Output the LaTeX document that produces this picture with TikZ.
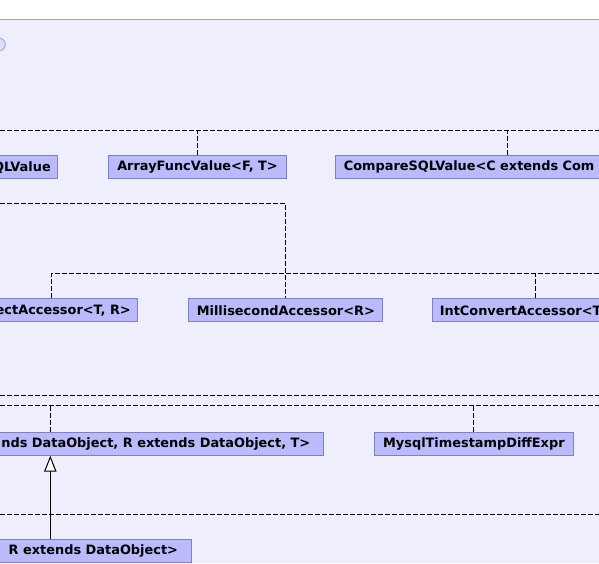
\documentclass[tikz,border=0pt]{standalone}
\usepackage{fontspec}
\newfontfamily\umlfont{DejaVu Sans}
\usetikzlibrary{arrows.meta}
\definecolor{bgl}{RGB}{238,238,252}
\definecolor{boxfill}{RGB}{186,186,252}
\definecolor{boxline}{RGB}{128,128,190}
\definecolor{frameline}{RGB}{160,160,184}
\definecolor{circfill}{RGB}{222,222,246}
\definecolor{circline}{RGB}{168,168,210}
\begin{document}
\begin{tikzpicture}[x=1pt,y=-1pt,
  cls/.style={draw=boxline, fill=boxfill, line width=1pt, minimum height=23pt,
    inner xsep=7pt, inner ysep=0pt, text=black,
    font=\umlfont\bfseries\fontsize{12.9}{15}\selectfont},
  dep/.style={draw=black, line width=1pt, dash pattern=on 5pt off 2pt},
  gen/.style={draw=black, line width=1pt, -{Triangle[length=16pt,width=12.4pt,fill=white]}}]
\useasboundingbox (0,0) rectangle (599,563);
\clip (0,0) rectangle (599,563);
\fill[white] (0,0) rectangle (599,563);
\fill[bgl] (0,19.5) rectangle (599,563);
\draw[frameline, line width=1pt] (0,19.5) -- (599,19.5);
\draw[circline, fill=circfill, line width=1pt] (-1,44.5) circle (6.3pt);

% classes
\node[cls, anchor=north east] (ql) at (58.3,155.3) {QLValue};
\node[cls, minimum width=177.4pt, anchor=north west] (af) at (108.3,155.3) {ArrayFuncValue<F, T>};
\node[cls, anchor=north west, inner xsep=8pt, text width=300pt, align=left] (cmp) at (335.3,155.3) {CompareSQLValue<C extends Com};
\node[cls, anchor=north east] (ect) at (138.3,298.3) {ectAccessor<T, R>};
\node[cls, minimum width=194pt, anchor=north west] (ms) at (188.3,298.3) {MillisecondAccessor<R>};
\node[cls, anchor=north west, text width=200pt, align=left] (ic) at (432.3,298.3) {IntConvertAccessor<T};
\node[cls, anchor=north east, inner xsep=13.5pt] (nds) at (324.3,431.7) {nds DataObject, R extends DataObject, T>};
\node[cls, minimum width=198.7pt, anchor=north west] (my) at (374,431.7) {MysqlTimestampDiffExpr};
\node[cls, anchor=north east, inner xsep=13.2pt] (rx) at (191.7,539.3) {R extends DataObject>};

% bus coordinates
\coordinate (b1w) at (0,130);     \coordinate (b1e) at (599,130);
\coordinate (b2w) at (0,203.3);
\coordinate (b3e) at (599,273.3);
\coordinate (b4w) at (0,395.7);   \coordinate (b4e) at (599,395.7);
\coordinate (b5w) at (0,405.7);   \coordinate (b5e) at (599,405.7);
\coordinate (b6w) at (0,514.7);   \coordinate (b6e) at (599,514.7);
\coordinate (cmpx) at (507.3,0);
\coordinate (ectx) at (51.7,0);
\coordinate (icx) at (535.7,0);
\coordinate (gx) at (50.3,0);

% dependency connectors
\draw[dep] (b1w) -- (b1e);
\draw[dep] (af.north) -- (af.north |- b1w);
\draw[dep] (cmp.north -| cmpx) -- (b1w -| cmpx);
\draw[dep] (b2w) -| (ms.north);
\draw[dep] (ect.north -| ectx) |- (b3e);
\draw[dep] (ic.north -| icx) -- (b3e -| icx);
\draw[dep] (b4w) -- (b4e);
\draw[dep] (b5w) -- (b5e);
\draw[dep] (nds.north -| gx) -- (b5w -| gx);
\draw[dep] (my.north) -- (my.north |- b5w);
\draw[dep] (b6w) -- (b6e);

% generalization
\draw[gen] (rx.north -| gx) -- (nds.south -| gx);
\end{tikzpicture}
\end{document}
